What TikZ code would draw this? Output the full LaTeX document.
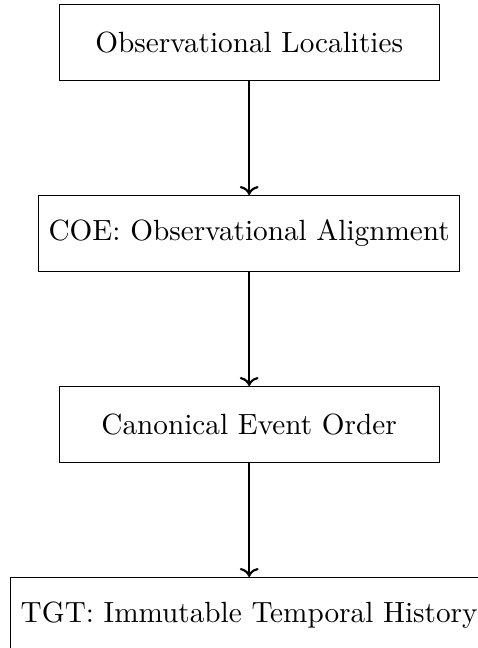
\documentclass[11pt,tikz,border=0pt]{standalone}
\usepackage{tikz}
\usetikzlibrary{arrows.meta, positioning}

\begin{document}
\begin{tikzpicture}[
    node distance=1.5cm,
    stage/.style={rectangle, draw, minimum width=5cm, minimum height=1cm, align=center},
    arrow/.style={->, thick}
]
\useasboundingbox (-3.28,0.56) rectangle (3.01,-7.97);

% Stages
\node[stage] (obs) {Observational Localities};
\node[stage, below=of obs] (coe) {COE: Observational Alignment};
\node[stage, below=of coe] (ceo) {Canonical Event Order};
\node[stage, below=of ceo] (tgt) {TGT: Immutable Temporal History};

% Flow
\draw[arrow] (obs) -- (coe);
\draw[arrow] (coe) -- (ceo);
\draw[arrow] (ceo) -- (tgt);

\end{tikzpicture}
\end{document}
